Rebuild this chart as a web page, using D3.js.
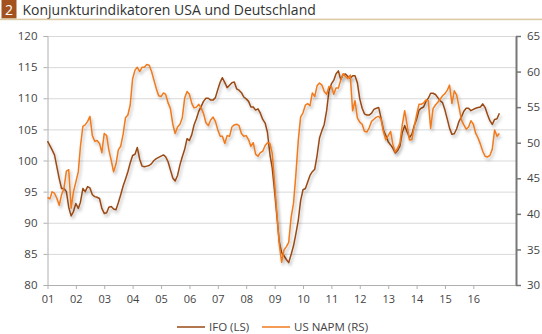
<!DOCTYPE html>
<html>
<head>
<meta charset="utf-8">
<script src="https://cdn.jsdelivr.net/npm/d3@7"></script>
<style>
  html, body { margin: 0; padding: 0; background: #fff; }
  svg { display: block; font-family: "Open Sans", "Noto Sans", sans-serif; }
</style>
</head>
<body>
<svg id="chart" width="542" height="334"></svg>
<script>
// ---- Data (monthly, Jan 2001 – Dec 2016) ----
const startYear = 2001;
const ifo = [
  103.1,102.4,101.7,100.9,99.0,97.1,95.5,95.5,95.0,92.5,91.1,91.8,
  93.1,92.3,93.3,95.5,95.0,95.8,95.6,94.5,94.2,94.1,93.9,92.3,
  91.5,91.6,92.5,92.6,92.2,92.1,93.2,94.5,95.9,97.0,98.2,99.6,
  100.8,101.0,102.1,100.2,99.1,99.0,99.1,99.2,99.5,100.0,100.3,100.5,
  100.7,100.9,100.6,99.8,98.5,97.2,96.7,97.6,99.3,100.6,101.8,103.5,
  103.2,104.2,105.7,106.7,107.9,108.7,109.5,110.0,110.0,109.7,109.7,110.1,
  111.4,112.6,113.3,112.5,111.7,112.1,112.5,112.6,111.5,111.3,110.9,110.2,
  109.9,109.5,108.6,108.6,108.1,108.3,107.6,106.6,106.0,104.5,101.0,98.8,
  95.0,90.8,87.0,85.2,84.7,84.1,83.6,84.9,86.3,88.2,90.4,93.5,
  95.3,95.5,96.5,97.6,98.2,98.6,100.8,103.6,104.8,105.8,108.0,111.2,
  112.3,112.9,113.9,114.4,113.0,113.8,113.9,113.5,113.2,113.6,113.6,112.5,
  109.9,108.4,107.5,107.3,107.3,107.6,108.2,108.4,108.5,106.8,104.9,104.0,
  103.0,102.5,102.0,101.2,101.6,102.3,104.5,105.6,104.6,103.7,104.2,105.6,
  106.6,108.1,108.4,108.6,109.5,110.0,110.8,110.8,110.6,110.1,109.6,109.3,
  108.1,106.6,105.2,104.2,104.3,105.1,106.3,107.0,107.9,108.4,108.4,108.0,
  108.2,108.4,108.5,108.6,109.1,108.5,107.4,106.4,105.8,106.6,106.7,107.6
];
const napm = [
  42.3,42.1,43.1,42.9,42.2,41.2,42.7,43.6,46.0,46.2,40.8,43.1,
  44.5,45.9,49.5,52.3,52.5,53.0,53.7,51.0,50.2,50.3,49.9,48.6,
  51.3,51.0,49.0,47.5,45.9,47.0,49.0,49.5,51.2,53.5,53.9,55.3,
  59.0,60.2,60.6,60.0,60.6,60.6,61.0,60.9,60.0,58.8,57.6,56.6,
  56.5,57.0,56.8,55.6,54.8,52.6,51.3,52.2,52.6,53.5,56.3,57.2,
  56.8,55.5,54.9,55.0,55.4,54.9,54.1,52.8,52.4,53.2,53.6,53.0,
  51.8,50.9,50.9,49.9,51.0,50.9,52.2,52.5,52.6,52.4,51.3,50.9,
  51.0,50.4,49.5,50.0,48.4,48.1,48.6,48.8,49.6,50.0,49.9,48.5,
  44.3,39.8,35.8,33.2,34.9,35.4,36.0,39.5,41.5,45.5,50.3,53.6,
  54.2,55.3,55.5,55.2,57.0,56.5,58.0,58.4,58.1,57.2,56.8,57.9,
  57.9,56.8,57.7,57.7,58.8,59.7,59.3,59.0,59.5,54.5,55.9,53.5,
  52.9,52.6,51.6,51.5,52.1,53.0,53.3,53.6,53.7,53.3,51.5,50.4,
  51.0,51.6,49.8,48.7,49.2,50.0,52.5,54.5,52.5,50.4,50.4,52.2,
  53.9,55.4,55.4,55.6,56.0,55.9,52.0,54.8,55.3,55.7,56.1,56.6,
  56.9,57.4,58.1,55.5,57.3,56.7,55.0,53.2,52.5,51.9,52.2,53.1,
  52.6,51.3,50.7,49.8,48.8,48.1,48.0,48.2,49.1,51.8,50.9,51.3
];
const yearLabels = ["01","02","03","04","05","06","07","08","09","10","11","12","13","14","15","16"];
const leftTicks = [80,85,90,95,100,105,110,115,120];
const rightTicks = [30,35,40,45,50,55,60,65];
const seriesNames = ["IFO (LS)", "US NAPM (RS)"];
const titleNum = "2";
const titleText = "Konjunkturindikatoren USA und Deutschland";

// ---- Layout ----
const colIFO = "#9a4a14";
const colNAPM = "#f07a1c";
const svg = d3.select("#chart");
const plotL = 47.5, plotR = 516, plotT = 36, plotB = 285;

const dates = ifo.map((_, i) => new Date(startYear, i, 1));
const x = d3.scaleTime()
  .domain([new Date(startYear, 0, 1), new Date(2017, 6, 3)])
  .range([plotL, plotR]);
const yL = d3.scaleLinear().domain([80, 120]).range([plotB, plotT]);
const yR = d3.scaleLinear().domain([30, 65]).range([plotB, plotT]);

// shadow filter
const defs = svg.append("defs");
const f = defs.append("filter").attr("id", "shadow")
  .attr("x", "-5%").attr("y", "-5%").attr("width", "110%").attr("height", "115%");
f.append("feDropShadow").attr("dx", 1.5).attr("dy", 2.5)
  .attr("stdDeviation", 1.4).attr("flood-color", "#000").attr("flood-opacity", 0.28);

// title
svg.append("rect").attr("x", 1.5).attr("y", 0).attr("width", 15).attr("height", 18.5)
  .attr("fill", "#a3521f");
svg.append("text").attr("x", 9).attr("y", 14.5).attr("text-anchor", "middle")
  .attr("fill", "#fff").attr("font-size", 14).text(titleNum);
svg.append("text").attr("x", 22.5).attr("y", 14.5).attr("fill", "#333")
  .attr("font-size", 14).text(titleText);
svg.append("rect").attr("x", 0).attr("y", 18.6).attr("width", 542).attr("height", 1.6)
  .attr("fill", "#dccaa6");

// gridlines
svg.append("g").selectAll("line").data(leftTicks.filter(d => d !== 80)).join("line")
  .attr("x1", plotL).attr("x2", plotR)
  .attr("y1", d => yL(d) + 0.5).attr("y2", d => yL(d) + 0.5)
  .attr("stroke", "#d9d9d9").attr("stroke-width", 1);

// left axis
const gL = svg.append("g").attr("transform", `translate(${plotL},0)`)
  .call(d3.axisLeft(yL).tickValues(leftTicks).tickSize(4).tickPadding(6));
gL.select(".domain").attr("stroke", "#b0b0b0");
gL.selectAll(".tick line").attr("stroke", "#b0b0b0");
gL.selectAll("text").attr("font-size", 11.5).attr("fill", "#444")
  .attr("font-family", "'Open Sans', sans-serif");

// bottom axis
const gB = svg.append("g").attr("transform", `translate(0,${plotB})`)
  .call(d3.axisBottom(x)
    .tickValues(yearLabels.map((_, i) => new Date(startYear + i, 0, 1)))
    .tickFormat((d, i) => yearLabels[i]).tickSize(4).tickPadding(6).tickSizeOuter(0));
gB.select(".domain").attr("stroke", "#b0b0b0");
gB.selectAll(".tick line").attr("stroke", "#b0b0b0");
gB.selectAll("text").attr("font-size", 11).attr("fill", "#444")
  .attr("font-family", "'Open Sans', sans-serif");

// right axis
const gR = svg.append("g").attr("transform", `translate(${plotR},0)`)
  .call(d3.axisRight(yR).tickValues(rightTicks).tickSize(5).tickPadding(6).tickSizeOuter(0));
gR.select(".domain").attr("stroke", "#777").attr("stroke-width", 2);
gR.selectAll(".tick line").attr("stroke", "#777").attr("stroke-width", 1.5);
gR.selectAll("text").attr("font-size", 11.5).attr("fill", "#444")
  .attr("font-family", "'Open Sans', sans-serif");

// lines
const lineL = d3.line().x((d, i) => x(dates[i])).y(d => yL(d));
const lineR = d3.line().x((d, i) => x(dates[i])).y(d => yR(d));
svg.append("path").datum(ifo).attr("d", lineL).attr("fill", "none")
  .attr("stroke", colIFO).attr("stroke-width", 1.5).attr("stroke-linejoin", "round")
  .attr("filter", "url(#shadow)");
svg.append("path").datum(napm).attr("d", lineR).attr("fill", "none")
  .attr("stroke", colNAPM).attr("stroke-width", 1.5).attr("stroke-linejoin", "round")
  .attr("filter", "url(#shadow)");

// legend
const legend = [
  {name: seriesNames[0], color: colIFO, x: 177},
  {name: seriesNames[1], color: colNAPM, x: 262}
];
const lg = svg.append("g");
legend.forEach(l => {
  lg.append("line").attr("x1", l.x).attr("x2", l.x + 28).attr("y1", 327).attr("y2", 327)
    .attr("stroke", l.color).attr("stroke-width", 1.5);
  lg.append("text").attr("x", l.x + 32).attr("y", 331).attr("font-size", 11.5)
    .attr("fill", "#444").text(l.name);
});
</script>
</body>
</html>
